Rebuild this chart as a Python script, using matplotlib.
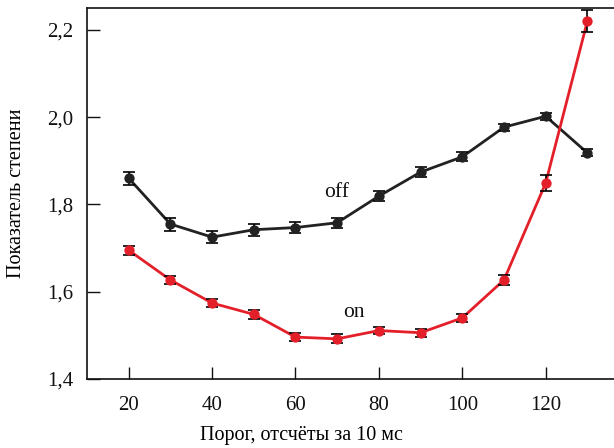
import matplotlib.pyplot as plt

plt.rcParams["font.family"] = ["Liberation Serif", "DejaVu Serif"]

# threshold, counts per 10 ms
threshold = [20, 30, 40, 50, 60, 70, 80, 90, 100, 110, 120, 130]

# power-law exponent, "off" series
off_vals = [1.860, 1.755, 1.725, 1.742, 1.747, 1.758, 1.819, 1.874, 1.909, 1.977, 2.002, 1.918]
off_err = [0.015, 0.015, 0.013, 0.014, 0.013, 0.012, 0.012, 0.012, 0.010, 0.008, 0.008, 0.008]

# power-law exponent, "on" series
on_vals = [1.695, 1.627, 1.574, 1.548, 1.496, 1.492, 1.511, 1.506, 1.540, 1.627, 1.849, 2.220]
on_err = [0.010, 0.010, 0.010, 0.010, 0.010, 0.010, 0.008, 0.009, 0.010, 0.012, 0.018, 0.025]

yticks = [1.4, 1.6, 1.8, 2.0, 2.2]
ytick_labels = ["1,4", "1,6", "1,8", "2,0", "2,2"]
xticks = [20, 40, 60, 80, 100, 120]

RED = "#e3202a"
BLACK = "#222222"

fig = plt.figure(figsize=(6.14, 4.48), dpi=100)
ax = fig.add_axes([87 / 614, 1 - 379 / 448, 540 / 614, 371 / 448])

for vals, err, color in [(off_vals, off_err, BLACK), (on_vals, on_err, RED)]:
    ax.plot(threshold, vals, color=color, lw=2.0, zorder=2)
    ax.errorbar(threshold, vals, yerr=err, fmt="none", ecolor="black",
                elinewidth=1.2, capsize=4, capthick=1.2, zorder=3)
    ax.scatter(threshold, vals, s=55, color=color, zorder=4, linewidths=0)

ax.text(69.8, 1.828, "off", fontsize=15.5, ha="center", va="center", color="#111111")
ax.text(74.1, 1.553, "on", fontsize=15.5, ha="center", va="center", color="#111111")

ax.set_xlim(10, 139.5)
ax.set_ylim(1.4, 2.25)
ax.set_xticks(xticks)
ax.set_yticks(yticks)
ax.set_yticklabels(ytick_labels)
ax.tick_params(direction="in", length=9, width=1.0, labelsize=15, colors="#111111")
ax.tick_params(axis="x", pad=12)
ax.tick_params(axis="y", pad=10)
for spine in ax.spines.values():
    spine.set_linewidth(1.2)
    spine.set_color("#111111")

ax.set_xlabel("Порог, отсчёты за 10 мс", fontsize=14.5, va="center")
ax.set_ylabel("Показатель степени", fontsize=14.5, va="center")
ax.xaxis.set_label_coords((301 - 87) / 540, -(435 - 379) / 371)
ax.yaxis.set_label_coords(-(87 - 17) / 540, (379 - 193) / 371)

fig.savefig("out.png", dpi=100)
